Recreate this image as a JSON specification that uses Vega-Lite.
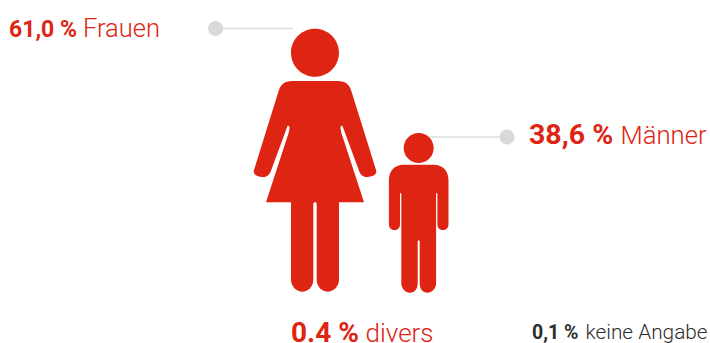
{
  "$schema": "https://vega.github.io/schema/vega-lite/v6.json",
  "width": 710,
  "height": 343,
  "autosize": {"type": "none"},
  "padding": 0,
  "background": "#ffffff",
  "view": {"stroke": null},
  "config": {"axis": {"disable": true}},
  "datasets": {
    "labels": [
      {"kategorie": "Frauen", "anteil": "61,0 %", "xAnteil": 9, "xName": 83, "yBasis": 37},
      {"kategorie": "Männer", "anteil": "38,6 %", "xAnteil": 529, "xName": 620.5, "yBasis": 143.5},
      {"kategorie": "divers", "anteil": "0.4 %", "xAnteil": 291, "xName": 365.5, "yBasis": 342},
      {"kategorie": "keine Angabe", "anteil": "0,1 %", "xAnteil": 532, "xName": 585.5, "yBasis": 338.5}
    ],
    "leaders": [
      {"figur": "Frauen", "xPunkt": 215.5, "xEnde": 293, "y": 28.5},
      {"figur": "Männer", "xPunkt": 507, "xEnde": 425, "y": 137}
    ],
    "figures": [
      {"figur": "Frauen", "x": 315, "y": 52.7},
      {"figur": "Männer", "x": 418.7, "y": 148}
    ]
  },
  "encoding": {
    "x": {"type": "quantitative", "scale": {"domain": [0, 710], "nice": false, "zero": false}},
    "y": {"type": "quantitative", "scale": {"domain": [343, 0], "nice": false, "zero": false}}
  },
  "layer": [
    {
      "data": {"name": "leaders"},
      "mark": {"type": "rule", "color": "#dddddd", "strokeWidth": 1.5},
      "encoding": {
        "x": {"field": "xPunkt"},
        "x2": {"field": "xEnde"},
        "y": {"field": "y"}
      }
    },
    {
      "data": {"name": "leaders"},
      "mark": {"type": "circle", "color": "#d9d9d9", "size": 227, "opacity": 1},
      "encoding": {
        "x": {"field": "xPunkt"},
        "y": {"field": "y"}
      }
    },
    {
      "data": {"name": "figures"},
      "transform": [{"filter": "datum.figur === 'Frauen'"}],
      "mark": {
        "type": "point",
        "filled": true,
        "color": "#de2412",
        "opacity": 1,
        "size": 4,
        "shape": "M-24 0C-24 -13.25 -13.25 -24 0 -24C13.25 -24 24 -13.25 24 0C24 13.25 13.25 24 0 24C-13.25 24 -24 13.25 -24 0ZM-22 28.3L22 28.3C32 28.3 35 33 37 40.3L61 117.3C62.5 121.5 58 124.3 52 124.3C48 124.3 45.5 122 44 118L27.5 73.3C26.5 72.5 25.5 73.5 25.5 75L26 79L49 149.6L24 149.6L24 227C24 234 18 239 13 239C7 239 1.7 234 1.7 227L1.7 151.6C1.7 150 1 149.6 0 149.6C-1 149.6 -1.7 150 -1.7 151.6L-1.7 227C-1.7 234 -7 239 -13 239C-18 239 -24 234 -24 227L-24 149.6L-49 149.6L-26 79L-25.5 75C-25.5 73.5 -26.5 72.5 -27.5 73.3L-44 118C-45.5 122 -48 124.3 -52 124.3C-58 124.3 -62.5 121.5 -61 117.3L-37 40.3C-35 33 -32 28.3 -22 28.3Z"
      },
      "encoding": {
        "x": {"field": "x"},
        "y": {"field": "y"}
      }
    },
    {
      "data": {"name": "figures"},
      "transform": [{"filter": "datum.figur === 'Männer'"}],
      "mark": {
        "type": "point",
        "filled": true,
        "color": "#de2412",
        "opacity": 1,
        "size": 4,
        "shape": "M-15 0C-15 -8.28 -8.28 -15 0 -15C8.28 -15 15 -8.28 15 0C15 8.28 8.28 15 0 15C-8.28 15 -15 8.28 -15 0ZM-15.4 16.7L15.4 16.7C24 16.7 29.8 23 29.8 32L29.8 76C29.8 80 27.5 82 24.2 82C21 82 18.7 80 18.7 76L18.7 46C18.7 44.5 17.4 44.5 17.4 46L17.4 135C17.4 141 13 144.7 8.7 144.7C4 144.7 1 141 1 135L1 94C1 91.5 -1 91.5 -1 94L-1 135C-1 141 -4 144.7 -8.7 144.7C-13 144.7 -17.4 141 -17.4 135L-17.4 46C-17.4 44.5 -18.7 44.5 -18.7 46L-18.7 76C-18.7 80 -21 82 -24.2 82C-27.5 82 -29.8 80 -29.8 76L-29.8 32C-29.8 23 -24 16.7 -15.4 16.7Z"
      },
      "encoding": {
        "x": {"field": "x"},
        "y": {"field": "y"}
      }
    },
    {
      "data": {"name": "labels"},
      "mark": {"type": "text", "align": "left", "baseline": "alphabetic", "font": "Roboto", "fontWeight": 700},
      "encoding": {
        "x": {"field": "xAnteil"},
        "y": {"field": "yBasis"},
        "text": {"field": "anteil"},
        "size": {
          "field": "kategorie",
          "type": "ordinal",
          "legend": null,
          "scale": {"type": "ordinal", "domain": ["Frauen", "Männer", "divers", "keine Angabe"], "range": [23, 28.5, 28, 19.5]}
        },
        "color": {
          "field": "kategorie",
          "type": "nominal",
          "legend": null,
          "scale": {"domain": ["Frauen", "Männer", "divers", "keine Angabe"], "range": ["#de2412", "#de2412", "#de2412", "#2e2e2e"]}
        }
      }
    },
    {
      "data": {"name": "labels"},
      "mark": {"type": "text", "align": "left", "baseline": "alphabetic", "font": "Roboto", "fontWeight": 300},
      "encoding": {
        "x": {"field": "xName"},
        "y": {"field": "yBasis"},
        "text": {"field": "kategorie"},
        "size": {
          "field": "kategorie",
          "type": "ordinal",
          "legend": null,
          "scale": {"type": "ordinal", "domain": ["Frauen", "Männer", "divers", "keine Angabe"], "range": [25.5, 25.7, 26, 20.8]}
        },
        "color": {
          "field": "kategorie",
          "type": "nominal",
          "legend": null,
          "scale": {"domain": ["Frauen", "Männer", "divers", "keine Angabe"], "range": ["#de2412", "#de2412", "#de2412", "#2e2e2e"]}
        }
      }
    }
  ],
  "resolve": {"scale": {"size": "independent"}}
}
